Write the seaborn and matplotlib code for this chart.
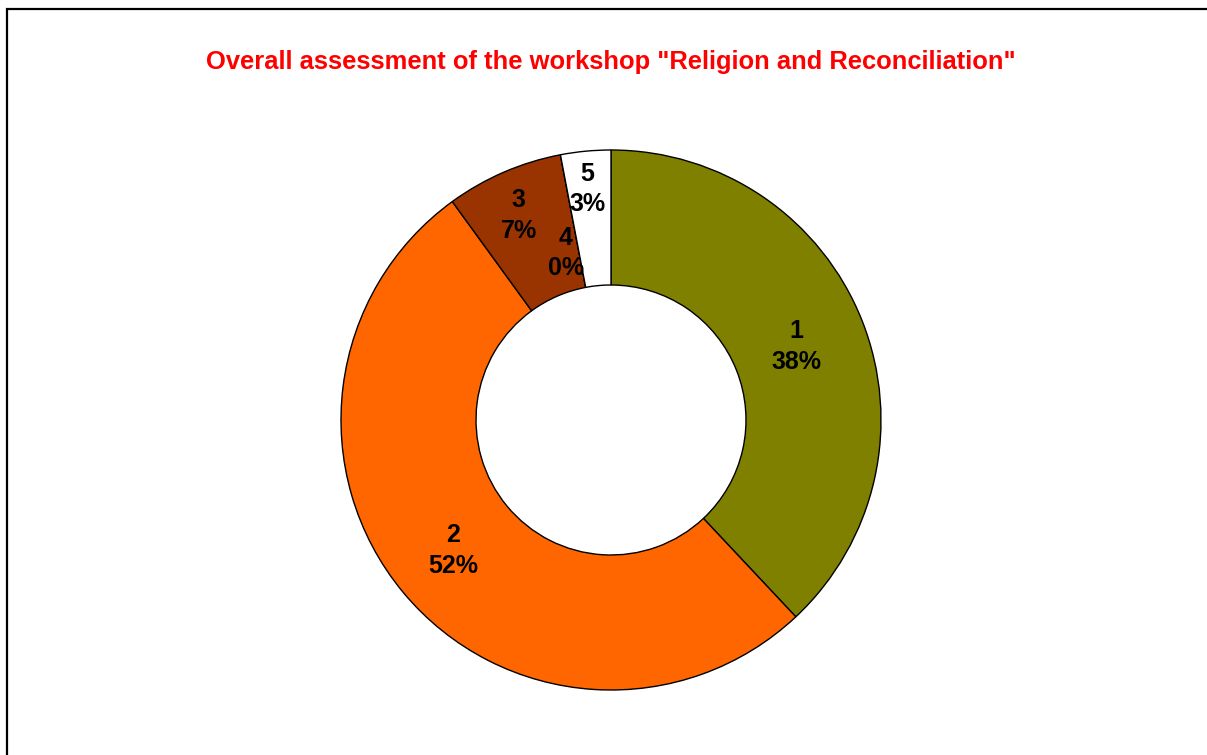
import numpy as np
import matplotlib
matplotlib.use("Agg")
import matplotlib.pyplot as plt
from matplotlib.patches import Rectangle
import seaborn as sns

categories = ["1", "2", "3", "4", "5"]
shares = [38, 52, 7, 0, 3]
colors = ["#808000", "#FF6600", "#993300", "#FFFFFF", "#FFFFFF"]
title = 'Overall assessment of the workshop "Religion and Reconciliation"'

# where each label sits along its wedge (fraction of outer radius, extra degrees)
label_radius = [0.74, 0.76, 0.83, 0.64, 0.86]
label_shift = [0.0, 0.0, 0.9, 4.3, 0.5]

sns.set_theme(style="white")
plt.rcParams["font.family"] = ["Liberation Sans", "DejaVu Sans"]

fig = plt.figure(figsize=(12.07, 7.55), dpi=100)
ax = fig.add_axes([341 / 1207, 65 / 755, 540 / 1207, 540 / 755])
wedges, _ = ax.pie(shares, colors=colors, startangle=90, counterclock=False,
                   radius=1.0, wedgeprops={"width": 0.5, "edgecolor": "black", "linewidth": 1.0})
ax.set_xlim(-1, 1)
ax.set_ylim(-1, 1)
ax.set_aspect("equal")
ax.axis("off")

for i, w in enumerate(wedges):
    ang = np.deg2rad((w.theta1 + w.theta2) / 2 + label_shift[i])
    r = label_radius[i]
    ax.text(r * np.cos(ang), r * np.sin(ang), categories[i] + "\n" + f"{shares[i]}%",
            ha="center", va="center", fontsize=18, fontweight="bold", color="black",
            linespacing=1.35)

fig.text(611 / 1207, 1 - 62 / 755, title, ha="center", va="center",
         fontsize=18.4, fontweight="bold", color="red")

fig.patches.append(Rectangle((7 / 1207, -0.1), 1.2, 1 - 9 / 755 + 0.1, transform=fig.transFigure,
                             fill=False, edgecolor="black", linewidth=1.6))

fig.savefig("out.png", dpi=100)
